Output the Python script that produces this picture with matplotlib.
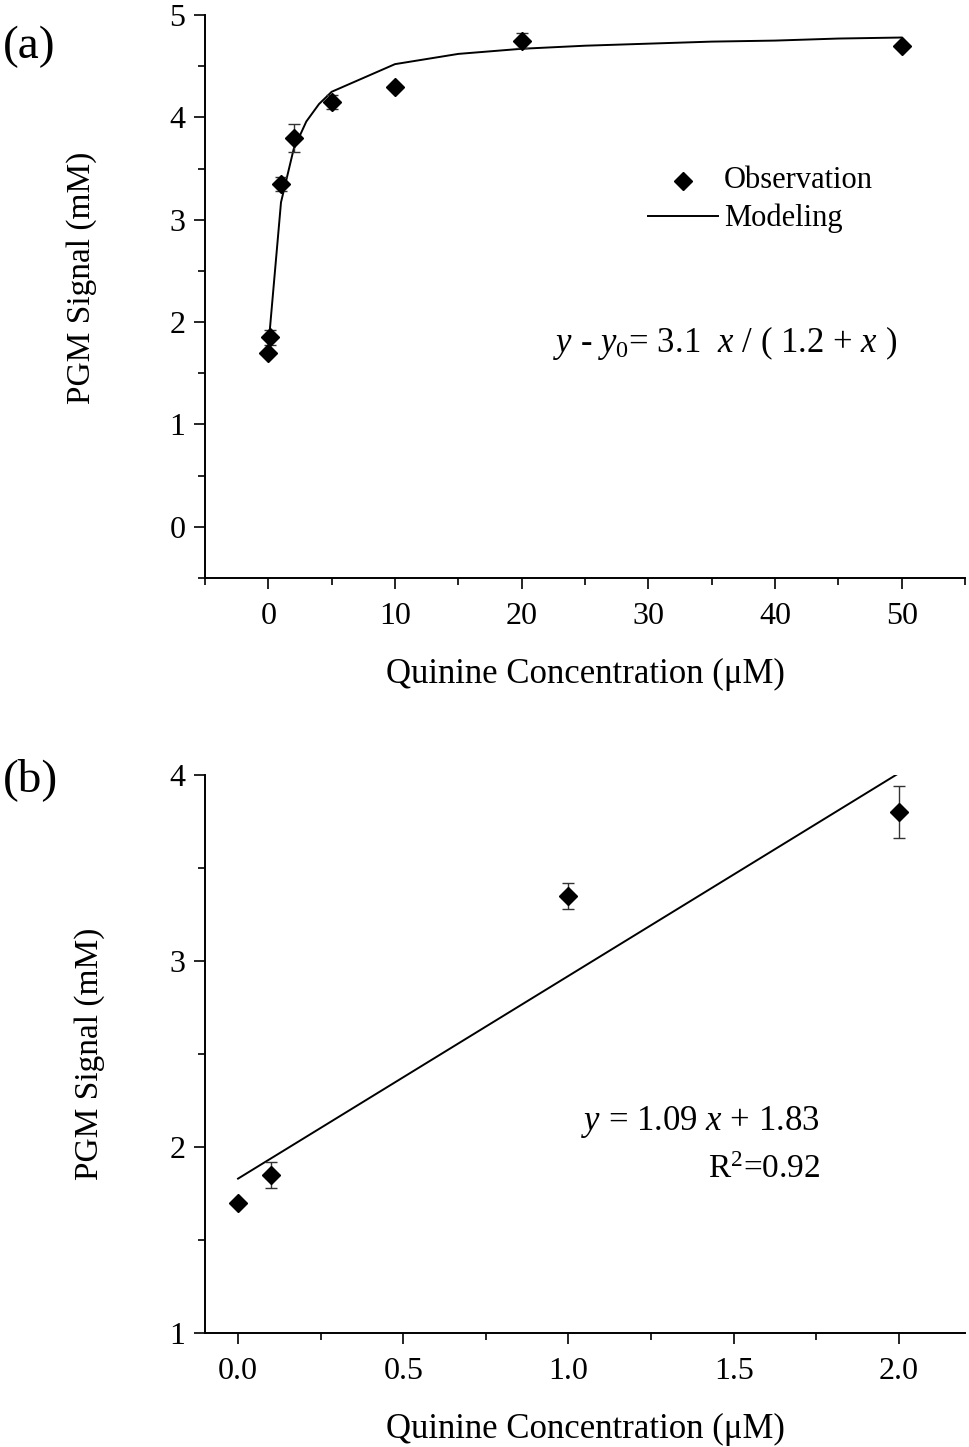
import matplotlib
matplotlib.use("Agg")
import matplotlib.pyplot as plt
from matplotlib.ticker import MultipleLocator
from matplotlib.lines import Line2D

plt.rcParams['font.family'] = ['Liberation Serif', 'DejaVu Serif']
plt.rcParams['mathtext.fontset'] = 'custom'
plt.rcParams['mathtext.rm'] = 'Liberation Serif'
plt.rcParams['mathtext.it'] = 'Liberation Serif:italic'

# ---- data (a) ----
obs_x = [0, 0.1, 1, 2, 5, 10, 20, 50]
obs_y = [1.70, 1.85, 3.35, 3.80, 4.15, 4.30, 4.75, 4.70]
obs_err = [0.0, 0.07, 0.07, 0.14, 0.07, 0.0, 0.07, 0.0]
model_x = [0.1, 1, 2, 3, 4, 5, 10, 15, 20, 25, 30, 35, 40, 45, 50]
model_y = [1.90, 3.17, 3.69, 3.96, 4.13, 4.25, 4.52, 4.62, 4.67, 4.70, 4.72, 4.74, 4.75, 4.77, 4.78]

# ---- data (b) ----
lin_x = [0, 0.1, 1, 2]
lin_y = [1.70, 1.85, 3.35, 3.80]
lin_err = [0.0, 0.07, 0.07, 0.14]
fit_x = [0.0, 2.0]
fit_y = [1.83, 4.01]

FS_TICK = 23
FS_XLAB = 25
FS_YLAB = 24
FS_LEG = 22
FS_EQ = 25
W, H = 969, 1447
fig = plt.figure(figsize=(W / 100, H / 100), dpi=100)

def px_axes(left, top, right, bottom):
    return fig.add_axes([left / W, 1 - bottom / H, (right - left) / W, (bottom - top) / H])

def style(ax):
    for s in ['top', 'right']:
        ax.spines[s].set_visible(False)
    for s in ['left', 'bottom']:
        ax.spines[s].set_linewidth(1.4)
    ax.tick_params(which='major', direction='out', length=8, width=1.2, labelsize=FS_TICK, pad=6)
    ax.tick_params(which='minor', direction='out', length=5, width=1.2)
    ax.tick_params(axis='x', which='major', pad=9)

# ---------- panel (a) ----------
ax1 = px_axes(205, 15, 965, 578)
style(ax1)
ax1.plot(model_x, model_y, color='black', lw=1.4, zorder=2)
ax1.errorbar(obs_x, obs_y, yerr=obs_err, fmt='none', ecolor='#333333', elinewidth=1.0,
             capsize=4.5, capthick=1.0, zorder=3)
ax1.plot(obs_x, obs_y, 'D', color='black', ms=9.5, zorder=4)
ax1.set_xlim(-5, 55)
ax1.set_ylim(-0.5, 5)
ax1.xaxis.set_minor_locator(MultipleLocator(5))
ax1.yaxis.set_minor_locator(MultipleLocator(0.5))
ax1.set_xticks([0, 10, 20, 30, 40, 50])
ax1.set_yticks([0, 1, 2, 3, 4, 5])
ax1.set_xlabel('Quinine Concentration (μM)', fontsize=FS_XLAB, labelpad=20)
ax1.set_ylabel('PGM Signal (mM)', fontsize=FS_YLAB)
ax1.yaxis.set_label_coords(-0.142, 0.533)

# legend drawn manually as in the figure
ax1.add_line(Line2D([683 / W], [1 - 181 / H], transform=fig.transFigure, marker='D',
                    color='black', ms=9, ls='none'))
ax1.add_line(Line2D([648 / W, 718 / W], [1 - 216 / H, 1 - 216 / H], transform=fig.transFigure,
                    color='black', lw=1.4))
fig.text(724 / W, 1 - 181 / H, 'Observation', fontsize=FS_LEG, va='center', ha='left')
fig.text(724 / W, 1 - 218 / H, 'Modeling', fontsize=FS_LEG, va='center', ha='left')
fig.text(553 / W, 1 - 343 / H, r'$y$ - $y_{\mathrm{0}}$= 3.1  $x$ / ( 1.2 + $x$ )',
         fontsize=FS_EQ, va='center', ha='left')
fig.text(3 / W, 1 - 47 / H, '(a)', fontsize=34, va='center', ha='left')

# ---------- panel (b) ----------
ax2 = px_axes(205, 775, 965, 1333)
style(ax2)
ax2.plot(fit_x, fit_y, color='black', lw=1.4, zorder=2)
ax2.errorbar(lin_x, lin_y, yerr=lin_err, fmt='none', ecolor='#333333', elinewidth=1.0,
             capsize=4.5, capthick=1.0, zorder=3)
ax2.plot(lin_x, lin_y, 'D', color='black', ms=9.5, zorder=4)
ax2.set_xlim(-0.1, 2.2)
ax2.set_ylim(1, 4)
ax2.xaxis.set_minor_locator(MultipleLocator(0.25))
ax2.yaxis.set_minor_locator(MultipleLocator(0.5))
ax2.set_xticks([0, 0.5, 1.0, 1.5, 2.0])
ax2.set_xticklabels(['0.0', '0.5', '1.0', '1.5', '2.0'])
ax2.set_yticks([1, 2, 3, 4])
ax2.set_xlabel('Quinine Concentration (μM)', fontsize=FS_XLAB, labelpad=20)
ax2.set_ylabel('PGM Signal (mM)', fontsize=FS_YLAB)
ax2.yaxis.set_label_coords(-0.131, 0.5)
fig.text(820 / W, 1 - 1122 / H, r'$y$ = 1.09 $x$ + 1.83', fontsize=FS_EQ, va='center', ha='right')
fig.text(820 / W, 1 - 1170 / H, r'R$^{2}$=0.92', fontsize=24, va='center', ha='right')
fig.text(3 / W, 1 - 780 / H, '(b)', fontsize=34, va='center', ha='left')

fig.savefig('out.png', dpi=100)
